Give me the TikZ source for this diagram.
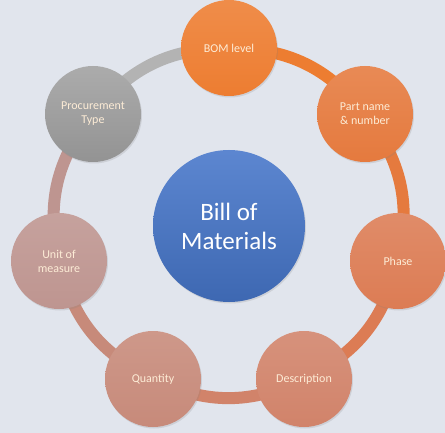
\documentclass[tikz,border=0pt]{standalone}
\usepackage{fontspec}
\setmainfont{Carlito}
\usetikzlibrary{backgrounds,shadows}
\definecolor{bmbg}{RGB}{225,229,237}
\definecolor{bmblue}{RGB}{70,118,202}
\definecolor{bmtxt}{RGB}{253,236,214}
\definecolor{bmlvl}{RGB}{237,125,49}
\definecolor{bmpart}{RGB}{229,122,62}
\definecolor{bmphase}{RGB}{220,124,84}
\definecolor{bmdesc}{RGB}{209,131,106}
\definecolor{bmqty}{RGB}{199,138,122}
\definecolor{bmuom}{RGB}{190,149,144}
\definecolor{bmproc}{RGB}{160,160,160}
\tikzset{
  stage/.style={
    circle, minimum size=96pt, inner sep=0pt, align=center,
    font=\fontsize{12}{14}\selectfont, text=bmtxt,
    drop shadow={opacity=0.2, shadow xshift=1pt, shadow yshift=-1.5pt}
  },
  lvl/.style={stage, top color=bmlvl!88!white, bottom color=bmlvl},
  part/.style={stage, top color=bmpart!88!white, bottom color=bmpart},
  phs/.style={stage, top color=bmphase!88!white, bottom color=bmphase},
  dsc/.style={stage, top color=bmdesc!88!white, bottom color=bmdesc},
  qty/.style={stage, top color=bmqty!88!white, bottom color=bmqty},
  uom/.style={stage, top color=bmuom!88!white, bottom color=bmuom},
  prc/.style={stage, top color=bmproc!88!white, bottom color=bmproc!92!black},
  hub/.style={
    circle, minimum size=152pt, inner sep=0pt, align=center,
    font=\fontsize{25}{29}\selectfont, text=white,
    top color=bmblue!88!white, bottom color=bmblue!88!black,
    drop shadow={opacity=0.2, shadow xshift=1pt, shadow yshift=-1.5pt}
  },
  band/.style={line width=12pt},
  every picture/.append style={line join=round}
}

\begin{document}
\begin{tikzpicture}[x=1pt,y=-1pt]
  \useasboundingbox (0,0) rectangle (445,433);

  \node[hub] (bill) at (229,226) {Bill of\\Materials};

  \node[lvl] (bom) at (229,48) {BOM level};
  \node[part] (pname) at (365,114) {Part name\\\& number};
  \node[phs] (phase) at (398,261) {Phase};
  \node[dsc] (desc) at (304,379) {Description};
  \node[qty] (quant) at (153,379) {Quantity};
  \node[uom] (unit) at (59,261) {Unit of\\measure};
  \node[prc] (proc) at (93,114) {Procurement\\Type};

  \begin{pgfonlayer}{background}
    \fill[bmbg] (0,0) rectangle (445,433);
    \draw[band, bmlvl] (bom.center) to[bend left=25.7] (pname.center);
    \draw[band, bmpart] (pname.center) to[bend left=25.7] (phase.center);
    \draw[band, bmphase] (phase.center) to[bend left=25.7] (desc.center);
    \draw[band, bmdesc] (desc.center) to[bend left=25.7] (quant.center);
    \draw[band, bmqty] (quant.center) to[bend left=25.7] (unit.center);
    \draw[band, bmuom] (unit.center) to[bend left=25.7] (proc.center);
    \draw[band, bmproc!80!white] (proc.center) to[bend left=25.7] (bom.center);
  \end{pgfonlayer}
\end{tikzpicture}
\end{document}
